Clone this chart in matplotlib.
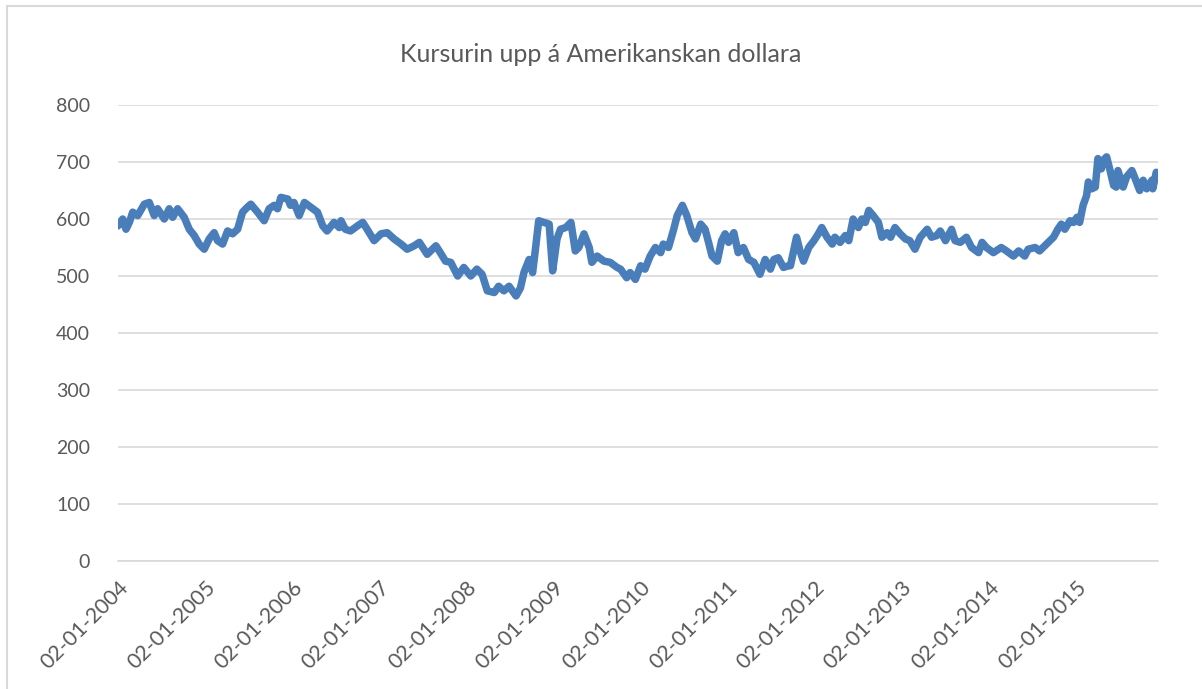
import numpy as np
import matplotlib
matplotlib.use("Agg")
import matplotlib.pyplot as plt
from matplotlib.patches import Rectangle

title = "Kursurin upp á Amerikanskan dollara"

# time in years since 02-01-2004
years_since_2004 = [
    0.00, 0.054, 0.092, 0.130, 0.169, 0.226, 0.302, 0.359, 0.416, 0.455,
    0.531, 0.588, 0.627, 0.685, 0.760, 0.818, 0.875, 0.932, 0.990, 1.047,
    1.104, 1.143, 1.201, 1.258, 1.315, 1.373, 1.430, 1.487, 1.525, 1.602,
    1.678, 1.735, 1.792, 1.831,
    1.87, 1.95, 1.98, 2.02, 2.08, 2.14, 2.21, 2.29, 2.35, 2.40,
    2.48, 2.54, 2.56, 2.61, 2.67, 2.75, 2.81, 2.86, 2.94, 3.02,
    3.09, 3.17, 3.25, 3.32, 3.40, 3.46, 3.55, 3.65, 3.70, 3.76,
    3.82, 3.90, 3.97, 4.05, 4.12, 4.18, 4.24, 4.32, 4.37, 4.43,
    4.49, 4.57, 4.62, 4.66, 4.72, 4.76, 4.79, 4.83, 4.89, 4.95,
    4.99, 5.04, 5.08, 5.14, 5.20, 5.25, 5.29, 5.35, 5.41, 5.44,
    5.50, 5.58, 5.65, 5.73,
    5.77, 5.84, 5.88, 5.94, 6.00, 6.05, 6.11, 6.17, 6.23, 6.26,
    6.32, 6.38, 6.42, 6.48, 6.53, 6.59, 6.63, 6.69, 6.74, 6.78,
    6.82, 6.88, 6.93, 6.97, 7.01, 7.07, 7.12, 7.18, 7.24, 7.30,
    7.37, 7.43, 7.49, 7.53, 7.58, 7.64, 7.70,
    7.72, 7.76, 7.79, 7.83, 7.87, 7.93, 7.99, 8.04, 8.08, 8.14,
    8.20, 8.23, 8.29, 8.35, 8.39, 8.44, 8.50, 8.54, 8.58, 8.62,
    8.67, 8.73, 8.77, 8.83, 8.87, 8.92, 8.98, 9.04, 9.09, 9.15,
    9.21, 9.29, 9.34, 9.40, 9.44, 9.50, 9.57, 9.61,
    9.67, 9.74, 9.80, 9.88, 9.92, 9.97, 10.05, 10.14, 10.20, 10.28,
    10.34, 10.41, 10.45, 10.53, 10.58, 10.66, 10.74, 10.79, 10.83, 10.87,
    10.93, 10.97, 11.01, 11.04, 11.08, 11.12, 11.14, 11.18, 11.22, 11.25,
    11.29, 11.31, 11.35, 11.39, 11.43, 11.46, 11.48, 11.54, 11.58, 11.64,
    11.67, 11.73, 11.77, 11.81, 11.87, 11.88, 11.92, 11.94,
]

# DKK per 100 USD
rate = [
    588, 600, 582, 594, 612, 606, 626, 629, 606, 618,
    600, 618, 603, 618, 603, 582, 571, 556, 547, 565,
    576, 562, 556, 579, 574, 582, 612, 621, 626, 612,
    597, 618, 624, 618,
    638, 635, 624, 629, 606, 629, 621, 612, 588, 579,
    594, 585, 597, 582, 579, 588, 594, 582, 562, 574,
    576, 565, 556, 547, 553, 559, 538, 553, 541, 526,
    524, 500, 515, 500, 512, 503, 474, 471, 482, 474,
    482, 465, 479, 506, 529, 506, 544, 597, 594, 591,
    509, 565, 582, 585, 594, 544, 550, 574, 550, 524,
    535, 526, 524, 515,
    512, 497, 506, 494, 518, 512, 535, 550, 541, 556,
    550, 582, 606, 624, 606, 576, 565, 591, 582, 559,
    535, 526, 562, 574, 559, 576, 541, 550, 529, 524,
    503, 529, 512, 529, 532, 515, 518,
    518, 547, 568, 544, 526, 550, 562, 574, 585, 568,
    556, 568, 559, 571, 562, 600, 585, 600, 594, 615,
    606, 594, 568, 576, 568, 585, 574, 565, 562, 547,
    568, 582, 568, 571, 579, 562, 582, 562,
    559, 568, 550, 541, 559, 550, 541, 550, 544, 535,
    544, 535, 547, 550, 544, 556, 568, 582, 591, 582,
    597, 594, 603, 594, 624, 641, 665, 653, 656, 706,
    688, 703, 709, 685, 659, 656, 685, 656, 674, 685,
    674, 650, 668, 653, 668, 653, 682, 679,
]

tick_years = list(range(2004, 2016))
tick_labels = [f"02-01-{y}" for y in tick_years]
y_ticks = [0, 100, 200, 300, 400, 500, 600, 700, 800]

TEXT = "#595959"
LINE = "#4a7ebb"
GRID = "#d9d9d9"

plt.rcParams["font.family"] = ["Lato", "DejaVu Sans"]

fig = plt.figure(figsize=(12.02, 6.89), dpi=100)
ax = fig.add_axes([118 / 1202, 1 - 561 / 689, (1158 - 118) / 1202, (561 - 105) / 689])

x = 2004 + np.array(years_since_2004)
ax.plot(x, rate, color=LINE, lw=5.4, solid_joinstyle="round", solid_capstyle="round")

ax.set_xlim(2004, 2004 + 11.94)
ax.set_ylim(0, 800)
ax.set_yticks(y_ticks)
ax.set_yticklabels([str(v) for v in y_ticks])
ax.set_xticks(tick_years)
ax.set_xticklabels(tick_labels, rotation=45, ha="right", va="top", rotation_mode="anchor")
ax.grid(axis="y", color=GRID, lw=1.2)
ax.set_axisbelow(True)
for s in ["top", "right", "left"]:
    ax.spines[s].set_visible(False)
ax.spines["bottom"].set_color(GRID)
ax.spines["bottom"].set_linewidth(1.2)
ax.tick_params(axis="both", length=0, colors=TEXT)
ax.tick_params(axis="y", pad=20, labelsize=14)
ax.tick_params(axis="x", pad=12, labelsize=15.5)

fig.text(0.5, 1 - 55 / 689, title, ha="center", va="center", fontsize=18, color=TEXT)

fig.patches.append(Rectangle((7 / 1202, -0.1), 1.2, 1 - 6 / 689 + 0.1, transform=fig.transFigure,
                             fill=False, edgecolor=GRID, lw=1.5))

fig.savefig("out.png", dpi=100, facecolor="white")
